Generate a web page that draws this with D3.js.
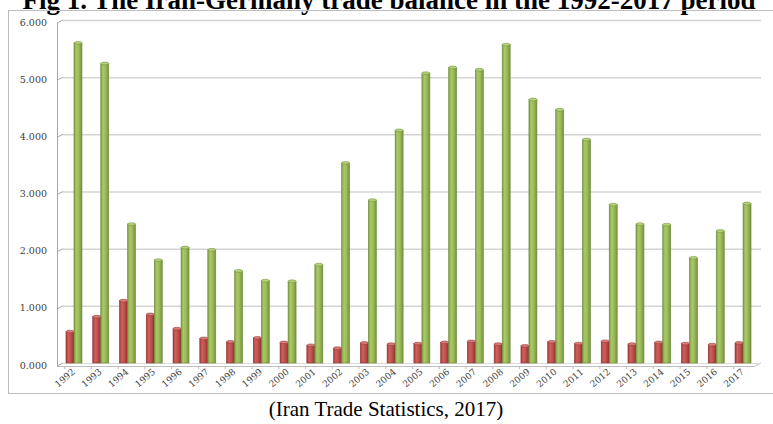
<!DOCTYPE html>
<html>
<head>
<meta charset="utf-8">
<script src="https://cdn.jsdelivr.net/npm/d3@7"></script>
<style>
  html, body { margin: 0; padding: 0; background: #fff; }
  svg { display: block; }
</style>
</head>
<body>
<svg id="chart" width="773" height="424"></svg>
<script>
// Iran–Germany trade, 1992–2017 (billion dollars)
const years = ["1992","1993","1994","1995","1996","1997","1998","1999","2000","2001","2002","2003","2004",
               "2005","2006","2007","2008","2009","2010","2011","2012","2013","2014","2015","2016","2017"];
const exportsToGermany = [0.55,0.81,1.09,0.85,0.60,0.43,0.37,0.44,0.36,0.31,0.26,0.35,0.33,
                          0.34,0.36,0.38,0.33,0.30,0.37,0.34,0.38,0.33,0.36,0.34,0.32,0.35];
const importsFromGermany = [5.60,5.24,2.43,1.80,2.02,1.98,1.61,1.44,1.43,1.72,3.50,2.85,4.07,
                            5.07,5.17,5.13,5.57,4.61,4.43,3.91,2.77,2.43,2.42,1.84,2.31,2.79];
const yTicks = [0,1,2,3,4,5,6];
const titleText = "Fig 1. The Iran-Germany trade balance in the 1992-2017 period";
const sourceText = "(Iran Trade Statistics, 2017)";

const svg = d3.select("#chart");
const defs = svg.append("defs");

// Cylinder-like shading for the two series
function shade(id, stops) {
  const g = defs.append("linearGradient").attr("id", id)
    .attr("x1", "0%").attr("x2", "100%").attr("y1", "0%").attr("y2", "0%");
  stops.forEach(([o, c]) => g.append("stop").attr("offset", o).attr("stop-color", c));
}
shade("redBar", [["0%", "#a23c39"], ["30%", "#d0605c"], ["60%", "#c0504d"], ["100%", "#8c3330"]]);
shade("greenBar", [["0%", "#7e9c44"], ["30%", "#aac96a"], ["60%", "#9bbb59"], ["100%", "#75913e"]]);

// Title (sits partly above the top edge)
svg.append("text")
  .attr("x", 389).attr("y", 9)
  .attr("text-anchor", "middle")
  .style("font-family", "'Liberation Serif', 'Times New Roman', serif")
  .style("font-weight", "bold")
  .style("font-size", "27px")
  .attr("fill", "#000")
  .text(titleText);

// Chart frame
svg.append("rect")
  .attr("x", 8.5).attr("y", 10.5).attr("width", 780).attr("height", 383)
  .attr("fill", "none").attr("stroke", "#bdbdbd").attr("stroke-width", 1);

// Scales
const x = d3.scaleBand().domain(years).range([60.6, 756.4]).paddingInner(0).paddingOuter(0);
const y = d3.scaleLinear().domain([0, 6]).range([363, 20]);
const barW = 8;
const depthX = 6, depthY = 3;
const axisX = 57;

// Back-wall gridlines and 3D side-wall ticks
const grid = svg.append("g");
yTicks.forEach(v => {
  if (v > 0) {
    grid.append("line")
      .attr("x1", axisX + depthX).attr("x2", 761)
      .attr("y1", y(v) + 0.5).attr("y2", y(v) + 0.5)
      .attr("stroke", "#d4d4d4").attr("stroke-width", 1.5);
  }
  grid.append("line")
    .attr("x1", axisX).attr("y1", y(v) + depthY)
    .attr("x2", axisX + depthX).attr("y2", y(v))
    .attr("stroke", "#a6a6a6").attr("stroke-width", 1);
});
// vertical axis line
grid.append("line")
  .attr("x1", axisX + 0.5).attr("x2", axisX + 0.5)
  .attr("y1", y(6) + depthY).attr("y2", y(0) + depthY)
  .attr("stroke", "#a6a6a6");
// floor: front edge and right-hand depth edge
grid.append("line")
  .attr("x1", axisX).attr("x2", 755)
  .attr("y1", y(0) + depthY + 0.5).attr("y2", y(0) + depthY + 0.5)
  .attr("stroke", "#bfbfbf");
grid.append("line")
  .attr("x1", 755).attr("y1", y(0) + depthY)
  .attr("x2", 761).attr("y2", y(0))
  .attr("stroke", "#bfbfbf");
grid.append("line")
  .attr("x1", axisX + depthX).attr("x2", 761)
  .attr("y1", y(0) + 0.5).attr("y2", y(0) + 0.5)
  .attr("stroke", "#d9d9d9");
// category tick marks under the floor
years.forEach((yr, i) => {
  const bx = x(yr) + 4;
  grid.append("line")
    .attr("x1", bx).attr("x2", bx)
    .attr("y1", y(0) + depthY).attr("y2", y(0) + depthY + 3)
    .attr("stroke", "#bfbfbf");
});

// Y axis labels
svg.append("g").selectAll("text").data(yTicks).join("text")
  .attr("x", 47).attr("y", d => y(d) + 3)
  .attr("text-anchor", "end")
  .attr("dominant-baseline", "middle")
  .style("font-family", "'DejaVu Serif', serif")
  .style("font-size", "9.5px")
  .attr("fill", "#404040")
  .text(d => d3.format(".3f")(d));

// Bars
function drawSeries(values, offset, fillId, stroke, cap) {
  const g = svg.append("g");
  years.forEach((yr, i) => {
    const cx = x(yr) + x.bandwidth() / 2 + offset;
    const top = y(values[i]);
    g.append("rect")
      .attr("x", cx).attr("y", top)
      .attr("width", barW).attr("height", y(0) - top)
      .attr("fill", `url(#${fillId})`)
      .attr("stroke", stroke).attr("stroke-width", 0.6);
    g.append("ellipse")
      .attr("cx", cx + barW / 2).attr("cy", top)
      .attr("rx", barW / 2).attr("ry", 1.4)
      .attr("fill", cap).attr("stroke", stroke).attr("stroke-width", 0.5);
  });
}
drawSeries(exportsToGermany, -barW, "redBar", "#8c3330", "#d87a77");
drawSeries(importsFromGermany, 0, "greenBar", "#6f8a38", "#b5d17c");

// X axis labels (rotated)
svg.append("g").selectAll("text").data(years).join("text")
  .attr("transform", d => `translate(${x(d) + x.bandwidth() / 2},${371}) rotate(-40)`)
  .attr("text-anchor", "end")
  .attr("dominant-baseline", "middle")
  .style("font-family", "'DejaVu Serif', serif")
  .style("font-size", "9px")
  .attr("fill", "#404040")
  .text(d => d);

// Source line
svg.append("text")
  .attr("x", 386).attr("y", 416)
  .attr("text-anchor", "middle")
  .style("font-family", "'Liberation Serif', 'Times New Roman', serif")
  .style("font-size", "21px")
  .attr("fill", "#000")
  .text(sourceText);
</script>
</body>
</html>
